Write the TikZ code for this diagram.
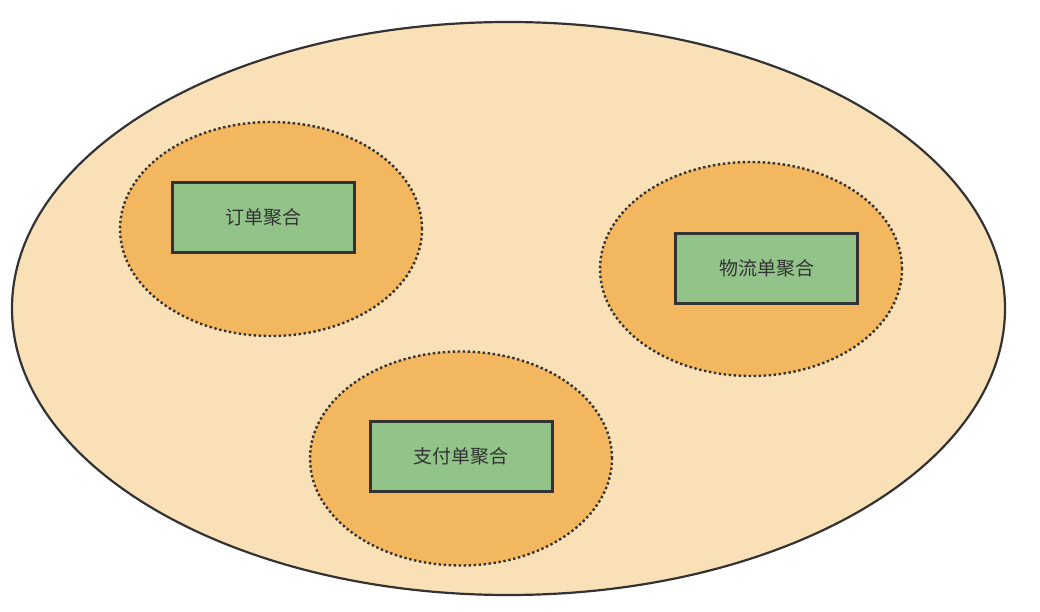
\documentclass[tikz,border=0pt]{standalone}
\usepackage{fontspec}
\newfontfamily\cjk{Noto Sans CJK SC}
\usetikzlibrary{shapes.geometric}
\definecolor{outerfill}{HTML}{F9E0B7}
\definecolor{innerfill}{HTML}{F3B760}
\definecolor{boxfill}{HTML}{92C48A}
\definecolor{stroke}{HTML}{333333}
\tikzset{
  outer/.style={ellipse, draw=stroke, fill=outerfill, line width=2.2pt, minimum width=993pt, minimum height=573pt, inner sep=0pt},
  inner/.style={ellipse, draw=stroke, fill=innerfill, line width=2.4pt, dash pattern=on 2.4pt off 2.6pt, minimum width=302pt, minimum height=214pt, inner sep=0pt},
  aggbox/.style={rectangle, draw=stroke, fill=boxfill, line width=3pt, minimum width=182pt, minimum height=70pt, inner sep=0pt, font=\cjk\fontsize{19}{21}\selectfont, text=stroke}
}
\begin{document}
\begin{tikzpicture}[x=1pt,y=-1pt]
\useasboundingbox (0,0) rectangle (1040,612);
\node[outer] (domain) at (508.5,308.5) {};
\node[inner] (e1) at (271,229) {};
\node[inner] (e2) at (751,269) {};
\node[inner] (e3) at (461,458.5) {};
\node[aggbox] (order) at (263,217.5) {订单聚合};
\node[aggbox] (logi) at (766.5,268.5) {物流单聚合};
\node[aggbox] (pay) at (461,456) {支付单聚合};
\end{tikzpicture}
\end{document}
